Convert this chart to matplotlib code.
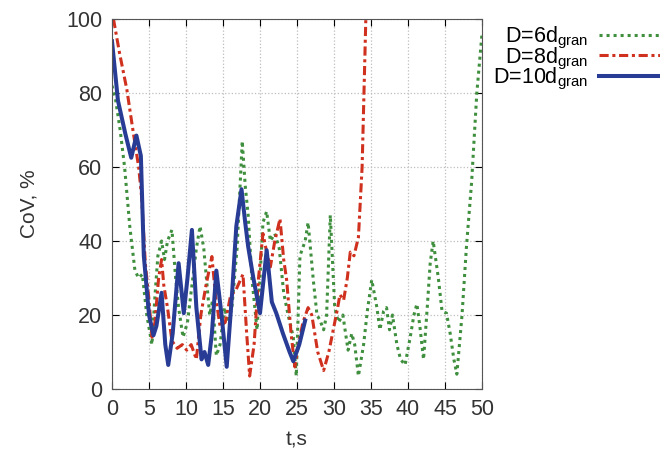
import numpy as np
import matplotlib.pyplot as plt

plt.rcParams['font.family'] = ['Liberation Sans', 'DejaVu Sans']
plt.rcParams['mathtext.default'] = 'regular'

# === data (t in s, CoV in %)
t6 = [0, 0.5, 1.1, 1.7, 2.4, 3.1, 3.6, 4.1, 4.7, 5.4,
      5.8, 6.2, 6.7, 7.1, 7.5, 8.1, 8.6, 9.0, 9.6, 10.2,
      10.8, 11.4, 11.9, 12.4, 13.2, 13.6, 14.1, 14.6, 15.2, 15.7,
      16.2, 16.9, 17.6, 18.0, 18.4, 18.9, 19.6, 20.0, 20.4, 20.9,
      21.4, 22.0, 22.6, 23.2, 23.8, 24.5, 24.9, 25.4, 26.1, 26.5,
      27.2, 27.7, 28.1, 28.6, 29.0, 29.5, 30.1, 30.6, 31.2, 31.9,
      32.4, 32.8, 33.3, 34.0, 34.5, 35.1, 35.8, 36.2, 36.7, 37.1,
      37.5, 37.9, 38.5, 39.0, 39.6, 40.3, 40.8, 41.2, 41.6, 42.1,
      42.6, 43.0, 43.4, 44.1, 44.6, 45.2, 45.7, 46.2, 46.6, 47.3,
      47.9, 48.6, 49.3, 50]
cov6 = [82, 78, 70, 60, 44, 32, 30, 31, 20, 12,
        25, 36, 40, 35, 40, 43, 30, 22, 14, 18,
        28, 38, 44, 38, 20, 24, 9, 12, 22, 18,
        22, 38, 67, 55, 47, 30, 16, 30, 45, 48,
        40, 42, 38, 26, 20, 14, 3.5, 36, 40, 45,
        29.5, 20, 18.6, 16, 20, 47, 22, 18, 20, 10.5,
        15, 12, 3.5, 12, 21, 29.5, 22, 16, 21, 22,
        16, 20, 12, 8, 6.5, 14, 20, 23, 17, 8,
        22, 34, 40, 30, 21, 20.5, 15, 8, 4, 20,
        38.5, 56, 80, 96]

t8 = [0.2, 1.0, 2.0, 2.9, 3.6, 4.0, 4.5, 5.0, 5.4, 5.8,
      6.3, 6.7, 7.0, 7.5, 8.1, 8.8, 9.5, 10.1, 10.7, 11.4,
      12.0, 12.7, 13.5, 14.0, 14.6, 15.3, 16.0, 16.8, 17.7, 18.2,
      18.6, 19.2, 19.8, 20.4, 21.0, 21.4, 22.0, 22.7, 23.2, 23.6,
      24.2, 24.7, 25.2, 25.8, 26.5, 27.0, 27.8, 28.6, 29.3, 29.9,
      30.5, 30.8, 31.3, 31.8, 32.2, 32.7, 33.3, 33.8, 34.3]
cov8 = [100, 91, 81, 69, 60, 52, 34, 24, 14, 18,
        30, 35, 28, 22, 13, 11, 12, 10.5, 12, 8,
        20, 28, 35.8, 25, 17, 18, 25, 27, 31, 15,
        3.5, 12, 30, 42, 36, 33, 40, 46, 35, 29.5,
        15, 6, 12, 18, 22, 20, 10, 5, 10, 16,
        22, 25.5, 24, 30, 37, 36, 41, 60, 100]

t10 = [0, 0.8, 1.8, 2.6, 3.3, 3.9, 4.3, 5.0, 5.6, 6.0,
       6.7, 7.2, 7.6, 8.2, 9.0, 9.7, 10.2, 10.8, 11.4, 12.1,
       12.5, 13.0, 13.5, 14.1, 14.8, 15.5, 16.2, 16.8, 17.5, 18.0,
       18.4, 19.1, 20.0, 20.9, 21.6, 22.2, 23.1, 24.0, 24.5, 25.3, 26.1]
cov10 = [94, 78, 69, 62.5, 68.5, 63, 36, 20, 14.5, 17,
         26, 12, 6.5, 15, 34, 20.5, 30, 43, 22, 8,
         10, 6.5, 15, 32, 20, 6, 25, 44, 54, 45,
         38.5, 30, 20.5, 37.5, 23.5, 20.5, 15, 10, 7.5, 12, 18.5]

labels = ['D=6d$_{gran}$', 'D=8d$_{gran}$', 'D=10d$_{gran}$']

#===============================================================
# == plot
fig = plt.figure(figsize=(6.6, 4.57), dpi=100)
ax = fig.add_axes([0.1697, 0.1488, 0.5606, 0.8096])

ax.plot(t6, cov6, color='#3f8f3f', lw=2.2, ls=(0, (1, 1.3)),
        solid_joinstyle='round', label=labels[0])
ax.plot(t8, cov8, color='#d0301e', lw=2.2, ls=(0, (3, 1.2, 1, 1.2)),
        dash_joinstyle='round', label=labels[1])
ax.plot(t10, cov10, color='#283c96', lw=2.9, solid_joinstyle='round',
        label=labels[2])

ax.set_xlim(0, 50)
ax.set_ylim(0, 100)
ax.set_xticks(np.arange(0, 51, 5))
ax.set_yticks(np.arange(0, 101, 20))
ax.grid(True, color='#bdbdbd', ls=':', lw=0.9)
ax.tick_params(direction='in', top=True, right=True, length=5,
               labelsize=15.5, labelcolor='#333333', pad=7)
for s in ax.spines.values():
    s.set_color('#555555')

ax.set_xlabel('t,s', fontsize=15, color='#333333', labelpad=8)
ax.set_ylabel('CoV, %', fontsize=15, color='#333333', labelpad=20)

ax.legend(loc='upper left', bbox_to_anchor=(0.99, 1.024), frameon=False,
          markerfirst=False, fontsize=15.5, handlelength=3.0,
          labelspacing=-0.27, handletextpad=0.5, borderaxespad=0.3)

fig.savefig('out.png', dpi=100)
